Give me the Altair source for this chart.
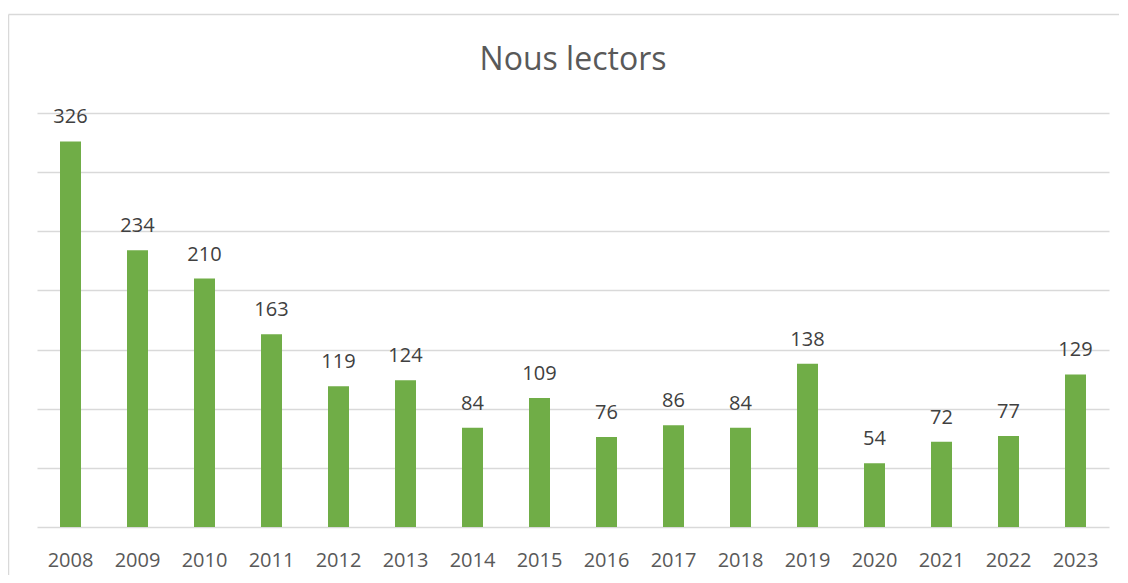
import altair as alt
import pandas as pd

years = ["2008", "2009", "2010", "2011", "2012", "2013", "2014", "2015",
         "2016", "2017", "2018", "2019", "2020", "2021", "2022", "2023"]
values = [326, 234, 210, 163, 119, 124, 84, 109, 76, 86, 84, 138, 54, 72, 77, 129]

df = pd.DataFrame({"year": years, "value": values})
border_df = pd.DataFrame({"k": [0]})

FONT = "Open Sans"

x_enc = alt.X("year:N", sort=years, title=None,
              scale=alt.Scale(paddingInner=0, paddingOuter=0),
              axis=alt.Axis(labelAngle=0, ticks=False, domain=False, grid=False,
                            labelFont=FONT, labelFontSize=20, labelColor="#595959",
                            labelPadding=23))
y_enc = alt.Y("value:Q", title=None,
              scale=alt.Scale(domain=[0, 350], nice=False),
              axis=alt.Axis(values=[0, 50, 100, 150, 200, 250, 300, 350],
                            labels=False, ticks=False, domain=False,
                            grid=True, gridColor="#d9d9d9", gridWidth=1.5))

bars = alt.Chart(df).mark_bar(size=21, color="#70ad47").encode(x=x_enc, y=y_enc)

labels = alt.Chart(df).mark_text(
    font=FONT, fontSize=20, color="#404040", baseline="alphabetic", dy=-18
).encode(x=alt.X("year:N", sort=years), y="value:Q", text="value:Q")

border_left = alt.Chart(border_df).mark_rule(color="#d9d9d9", strokeWidth=1.5).encode(
    x=alt.value(-28.5), y=alt.value(-98.5), y2=alt.value(480))
border_top = alt.Chart(border_df).mark_rule(color="#d9d9d9", strokeWidth=1.5).encode(
    x=alt.value(-28.5), x2=alt.value(1110), y=alt.value(-98.5))

chart = alt.layer(border_left, border_top, bars, labels).properties(
    width=1072, height=414,
    title=alt.TitleParams("Nous lectors", font=FONT, fontSize=32, fontWeight="normal",
                          color="#595959", anchor="middle", frame="group",
                          baseline="alphabetic", offset=-88.5),
    padding={"left": 29, "top": 105, "right": 10, "bottom": 48},
    autosize=alt.AutoSizeParams(type="none"),
).configure(background="white").configure_view(stroke=None)

chart.save("out.html", embed_options={"renderer": "svg", "actions": False})
